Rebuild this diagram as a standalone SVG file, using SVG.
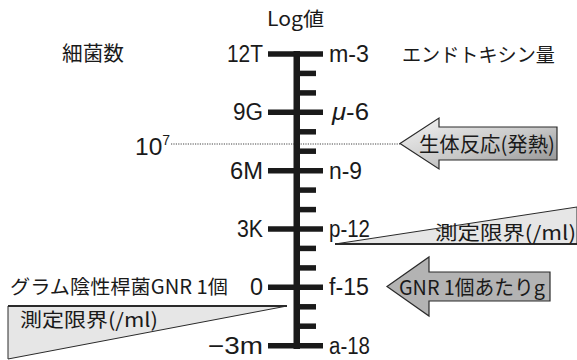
<svg xmlns="http://www.w3.org/2000/svg" width="577" height="360" viewBox="0 0 577 360">
<defs>
<style>
.num{font-family:"Liberation Sans","Noto Sans CJK JP",sans-serif;font-size:23.5px;fill:#1a1a1a}
.jp{font-family:"Noto Sans CJK JP","Liberation Sans",sans-serif;fill:#1a1a1a}
.maj{stroke:#1a1a1a;stroke-width:5.5}
.min{stroke:#1a1a1a;stroke-width:5.5}
.edge{stroke:#2a2a2a;stroke-width:1.2;stroke-linejoin:miter}
</style>
<linearGradient id="g1" x1="0" y1="0" x2="1" y2="1">
<stop offset="0" stop-color="#f4f4f4"/>
<stop offset="0.55" stop-color="#c8c8c8"/>
<stop offset="1" stop-color="#8c8c8c"/>
</linearGradient>
</defs>
<rect width="577" height="360" fill="#ffffff"/>

<g id="connectors">
<line x1="171" y1="144" x2="400" y2="144" stroke="#444" stroke-width="1" stroke-dasharray="1.2,1.2"/>
</g>

<g id="axis">
<rect x="293.5" y="51" width="6.5" height="298" fill="#1a1a1a"/>
<line class="maj" x1="268" y1="54" x2="323" y2="54"/>
<line class="maj" x1="268" y1="112.3" x2="323" y2="112.3"/>
<line class="maj" x1="268" y1="170.7" x2="323" y2="170.7"/>
<line class="maj" x1="268" y1="229" x2="323" y2="229"/>
<line class="maj" x1="268" y1="287.3" x2="323" y2="287.3"/>
<line class="maj" x1="268" y1="345.7" x2="323" y2="345.7"/>
<line class="min" x1="297" y1="73.4" x2="316" y2="73.4"/>
<line class="min" x1="297" y1="92.9" x2="316" y2="92.9"/>
<line class="min" x1="297" y1="131.8" x2="316" y2="131.8"/>
<line class="min" x1="297" y1="151.2" x2="316" y2="151.2"/>
<line class="min" x1="297" y1="190.1" x2="316" y2="190.1"/>
<line class="min" x1="297" y1="209.6" x2="316" y2="209.6"/>
<line class="min" x1="297" y1="248.4" x2="316" y2="248.4"/>
<line class="min" x1="297" y1="267.9" x2="316" y2="267.9"/>
<line class="min" x1="297" y1="306.8" x2="316" y2="306.8"/>
<line class="min" x1="297" y1="326.2" x2="316" y2="326.2"/>
<text class="jp" x="267" y="26" style="font-size:19.5px" textLength="57" lengthAdjust="spacingAndGlyphs">Log値</text>
</g>

<g id="left-labels">
<text class="num" x="227" y="62" textLength="36" lengthAdjust="spacingAndGlyphs">12T</text>
<text class="num" x="233" y="120.3" textLength="30" lengthAdjust="spacingAndGlyphs">9G</text>
<text class="num" x="230" y="178.7" textLength="33" lengthAdjust="spacingAndGlyphs">6M</text>
<text class="num" x="237" y="237" textLength="26" lengthAdjust="spacingAndGlyphs">3K</text>
<text class="num" x="250" y="295.3" textLength="13" lengthAdjust="spacingAndGlyphs">0</text>
<text class="num" x="208" y="353.7" textLength="55" lengthAdjust="spacingAndGlyphs">−3m</text>
</g>

<g id="right-labels">
<text class="num" x="329" y="62" textLength="40" lengthAdjust="spacingAndGlyphs">m-3</text>
<text class="num" x="332" y="120.3" textLength="37" lengthAdjust="spacingAndGlyphs"><tspan font-style="italic">μ</tspan>-6</text>
<text class="num" x="329" y="178.7" textLength="33" lengthAdjust="spacingAndGlyphs">n-9</text>
<text class="num" x="329" y="237" textLength="41" lengthAdjust="spacingAndGlyphs">p-12</text>
<text class="num" x="329" y="295.3" textLength="40" lengthAdjust="spacingAndGlyphs">f-15</text>
<text class="num" x="329" y="353.7" textLength="41" lengthAdjust="spacingAndGlyphs">a-18</text>
</g>

<g id="title-bacteria">
<text class="jp" x="62" y="61" style="font-size:20px" textLength="62" lengthAdjust="spacingAndGlyphs">細菌数</text>
</g>
<g id="title-endotoxin">
<text class="jp" x="402" y="62" style="font-size:19.5px" textLength="153" lengthAdjust="spacingAndGlyphs">エンドトキシン量</text>
</g>

<g id="label-10-7">
<text class="num" x="135" y="155" style="font-size:24.5px">10<tspan dy="-10" style="font-size:14px">7</tspan></text>
</g>

<g id="arrow-fever">
<polygon class="edge" points="400,143.5 439,118 439,127 557,127 557,160 439,160 439,169" fill="url(#g1)"/>
<text class="jp" x="419" y="152" style="font-size:20.5px" textLength="136" lengthAdjust="spacingAndGlyphs">生体反応(発熱)</text>
</g>

<g id="limit-right">
<polygon points="335,244 577,207 577,244" fill="#e6e6e6" stroke="#2a2a2a" stroke-width="1"/>
<line x1="335" y1="244" x2="577" y2="244" stroke="#2a2a2a" stroke-width="2"/>
<text class="jp" x="435" y="240" style="font-size:19.5px" textLength="141" lengthAdjust="spacingAndGlyphs">測定限界(/ml)</text>
</g>

<g id="label-gnr">
<text class="jp" x="10" y="294" style="font-size:19.5px" textLength="218" lengthAdjust="spacingAndGlyphs">グラム陰性桿菌GNR 1個</text>
</g>

<g id="arrow-gnr">
<polygon class="edge" points="387,286.5 429,257 429,272 550,272 550,301 429,301 429,316" fill="#b3b3b3"/>
<text class="jp" x="399" y="295" style="font-size:20px" textLength="146" lengthAdjust="spacingAndGlyphs">GNR 1個あたりg</text>
</g>

<g id="limit-left">
<polygon points="8,306 287,306 8,359" fill="#e6e6e6" stroke="#2a2a2a" stroke-width="1"/>
<line x1="8" y1="306" x2="287" y2="306" stroke="#2a2a2a" stroke-width="2"/>
<text class="jp" x="20" y="327" style="font-size:19.5px" textLength="138" lengthAdjust="spacingAndGlyphs">測定限界(/ml)</text>
</g>
</svg>
